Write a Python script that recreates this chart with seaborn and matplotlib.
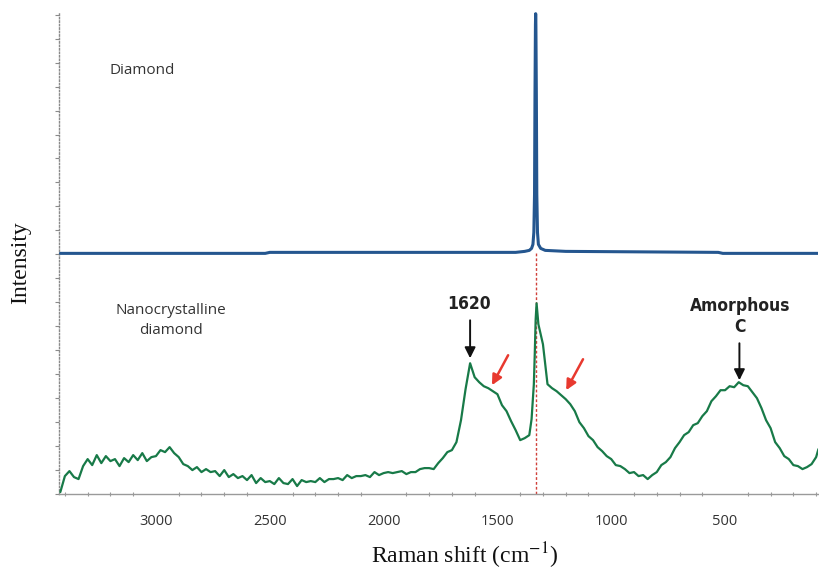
import numpy as np
import pandas as pd
import matplotlib
matplotlib.use("Agg")
import matplotlib.pyplot as plt
from matplotlib.ticker import MultipleLocator
import seaborn as sns

# ---- spectra (Raman shift in cm-1, intensity in arbitrary units) ----
diamond_shift = [3420, 2520, 2500, 1420, 1380, 1360, 1350, 1344,
                 1340, 1337, 1335, 1333, 1332, 1331, 1329, 1327, 1324, 1320,
                 1310, 1290, 1200, 530, 510, 90]
diamond_int = [241, 241, 242, 242, 243, 244, 246, 250,
               262, 300, 400, 470, 481, 470, 400, 300, 262, 250,
               246, 244, 243, 242, 241, 241]

nano_shift = [3420, 3400, 3380, 3360, 3340, 3320, 3300, 3280, 3260, 3240,
              3220, 3200, 3180, 3160, 3140, 3120, 3100, 3080, 3060, 3040,
              3020, 3000, 2980, 2960, 2940, 2920, 2900, 2880, 2860, 2840,
              2820, 2800, 2780, 2760, 2740, 2720, 2700, 2680, 2660, 2640,
              2620, 2600, 2580, 2560, 2540, 2520, 2500, 2480, 2460, 2440,
              2420, 2400, 2380, 2360, 2340, 2320, 2300, 2280, 2260, 2240,
              2220, 2200, 2180, 2160, 2140, 2120, 2100, 2080, 2060, 2040,
              2020, 2000, 1980, 1960, 1940, 1920, 1900, 1880, 1860, 1840,
              1820, 1800, 1780, 1760, 1740, 1720, 1700, 1680, 1660, 1640,
              1620, 1600, 1580, 1560, 1540, 1520, 1500, 1480, 1460, 1440,
              1420, 1400, 1380, 1360, 1350, 1340, 1336, 1332, 1328, 1324,
              1320, 1310, 1300, 1280, 1260, 1240, 1220, 1200, 1180, 1160,
              1140, 1120, 1100, 1080, 1060, 1040, 1020, 1000, 980, 960,
              940, 920, 900, 880, 860, 840, 820, 800, 780, 760,
              740, 720, 700, 680, 660, 640, 620, 600, 580, 560,
              540, 520, 500, 480, 460, 440, 420, 400, 380, 360,
              340, 320, 300, 280, 260, 240, 220, 200, 180, 160,
              140, 120, 100, 90]
nano_int = [2, 18, 23, 17, 15, 28, 35, 29, 39, 31,
            38, 33, 35, 28, 36, 32, 39, 34, 41, 33,
            37, 38, 44, 42, 47, 41, 37, 30, 28, 24,
            27, 22, 25, 22, 23, 18, 24, 17, 20, 16,
            18, 14, 19, 11, 16, 12, 13, 10, 16, 11,
            10, 15, 8, 14, 12, 13, 12, 16, 12, 15,
            15, 16, 14, 19, 16, 18, 18, 19, 17, 22,
            19, 21, 22, 21, 22, 23, 20, 22, 22, 25,
            26, 26, 25, 31, 36, 42, 44, 52, 74, 105,
            131, 117, 112, 108, 106, 103, 100, 89, 83, 73,
            64, 54, 56, 59, 75, 110, 140, 175, 191, 180,
            170, 160, 150, 110, 106, 103, 99, 95, 90, 83,
            72, 66, 58, 54, 47, 43, 38, 35, 29, 28,
            25, 21, 22, 18, 19, 15, 19, 22, 29, 32,
            37, 46, 52, 59, 62, 69, 71, 78, 83, 93,
            98, 104, 104, 108, 107, 112, 109, 108, 102, 96,
            86, 74, 66, 52, 46, 38, 35, 29, 28, 25,
            27, 30, 37, 45]

x_ticks = [3000, 2500, 2000, 1500, 1000, 500]
diamond_line = 1332

diamond = pd.DataFrame({"shift": diamond_shift, "intensity": diamond_int})
nano = pd.DataFrame({"shift": nano_shift, "intensity": nano_int})

sns.set_theme(style="white")
plt.rcParams["mathtext.fontset"] = "stix"

fig = plt.figure(figsize=(8.19, 5.84), dpi=100)
ax = fig.add_axes([0.072, 0.154, 0.927, 0.826])

# reference line under the diamond peak
ax.vlines(diamond_line, 0, 241, colors="#d0403a", linestyles=(0, (2, 1.5)), lw=1, zorder=1)

sns.lineplot(data=diamond, x="shift", y="intensity", ax=ax, color="#24568f",
             lw=2.2, estimator=None, sort=False, zorder=3)
sns.lineplot(data=nano, x="shift", y="intensity", ax=ax, color="#187a48",
             lw=1.6, estimator=None, sort=False, zorder=3)

ax.set_xlim(3426, 91)
ax.set_ylim(0, 483)

# axes styling
for side in ("top", "right"):
    ax.spines[side].set_visible(False)
ax.spines["left"].set_color("#8a8a8a")
ax.spines["left"].set_linestyle((0, (1, 1.5)))
ax.spines["left"].set_linewidth(1.0)
ax.spines["bottom"].set_color("#9a9a9a")
ax.spines["bottom"].set_linewidth(1.0)

ax.set_xticks(x_ticks)
ax.set_xticklabels([str(t) for t in x_ticks])
ax.xaxis.set_minor_locator(MultipleLocator(100))
ax.tick_params(axis="x", which="major", direction="inout", length=5, width=1,
               color="#8a8a8a", pad=12, labelsize=10.5, labelcolor="#333333")
ax.tick_params(axis="x", which="minor", direction="inout", length=3, width=0.8,
               color="#9a9a9a", bottom=True)
ax.yaxis.set_major_locator(MultipleLocator(24))
ax.tick_params(axis="y", which="major", direction="out", length=3, width=0.8,
               color="#8a8a8a", labelleft=False, left=True)
for lab in ax.get_xticklabels():
    lab.set_family(["Open Sans", "DejaVu Sans"])

ax.set_xlabel("Raman shift (cm$^{-1}$)", family="Liberation Serif", fontsize=17,
              color="#111111", va="center")
ax.xaxis.set_label_coords(0.535, -0.127)
ax.set_ylabel("Intensity", family="Liberation Serif", fontsize=17,
              color="#111111", va="center")
ax.yaxis.set_label_coords(-0.051, 0.479)

# series captions
ax.text(3202, 424, "Diamond", ha="left", va="center", fontsize=11,
        family=["Open Sans", "DejaVu Sans"], color="#333333")
ax.text(2934, 174, "Nanocrystalline\ndiamond", ha="center", va="center",
        fontsize=11, linespacing=1.45, family=["Open Sans", "DejaVu Sans"],
        color="#333333")

# peak annotations in a narrow bold face
bold_font = ["DejaVu Sans"]
ax.text(1625, 190, "1620", ha="center", va="center", fontsize=12.5,
        fontweight="bold", fontstretch="condensed", family=bold_font, color="#222222")
ax.text(434, 178, "Amorphous\nC", ha="center", va="center", fontsize=12.5,
        fontweight="bold", fontstretch="condensed", family=bold_font,
        color="#222222", linespacing=1.25)

black_arrow = dict(arrowstyle="-|>", color="#111111", lw=1.4, mutation_scale=16,
                   shrinkA=0, shrinkB=0)
ax.annotate("", xy=(1620, 136), xytext=(1620, 174), arrowprops=black_arrow)
ax.annotate("", xy=(437, 114), xytext=(437, 151), arrowprops=black_arrow)

red_arrow = dict(arrowstyle="-|>", color="#e8392f", lw=1.8, mutation_scale=15,
                 shrinkA=0, shrinkB=0)
ax.annotate("", xy=(1524, 109), xytext=(1453, 139), arrowprops=red_arrow)
ax.annotate("", xy=(1198, 104), xytext=(1124, 135), arrowprops=red_arrow)

fig.savefig("out.png", dpi=100)
